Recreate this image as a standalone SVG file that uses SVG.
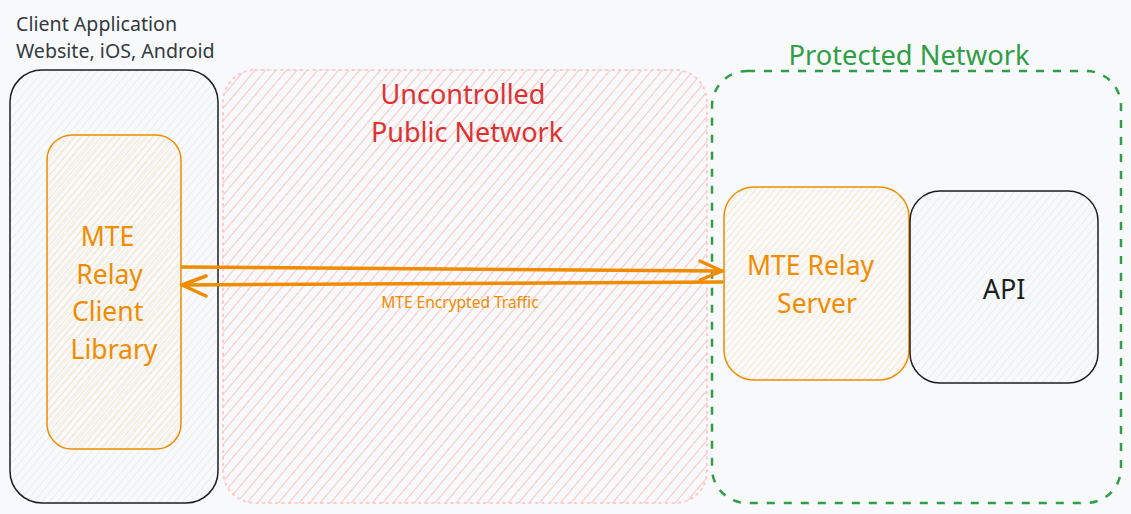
<svg xmlns="http://www.w3.org/2000/svg" width="1131" height="514" viewBox="0 0 1131 514">
<defs>
<pattern id="hGray" width="6" height="6" patternUnits="userSpaceOnUse" patternTransform="rotate(40)">
<line x1="0" y1="0" x2="0" y2="6" stroke="#dee2e6" stroke-width="1"/>
</pattern>
<pattern id="hOrange" width="5" height="5" patternUnits="userSpaceOnUse" patternTransform="rotate(40)">
<line x1="0" y1="0" x2="0" y2="5" stroke="#ffd8a8" stroke-width="1.2"/>
</pattern>
<pattern id="hPink" width="8" height="8" patternUnits="userSpaceOnUse" patternTransform="rotate(40)">
<line x1="0" y1="0" x2="0" y2="8" stroke="#ffc2c2" stroke-width="2"/>
</pattern>
<style>
.t{font-family:"Noto Sans","Open Sans",sans-serif}
.dark{fill:#1e1e1e}
.org{fill:#f08c00}
.conn{stroke:#f08c00;stroke-width:3.5;fill:none;stroke-linecap:round;stroke-linejoin:round}
</style>
</defs>
<rect x="0" y="0" width="1131" height="514" fill="#f8f9fa"/>

<g id="public-network">
<rect x="223" y="70" width="484" height="433" rx="32" fill="url(#hPink)" stroke="#ffc9c9" stroke-width="2" stroke-dasharray="1.5 5" stroke-linecap="round"/>
<text class="t" x="463" y="103.5" font-size="27" text-anchor="middle" fill="#e03131">Uncontrolled</text>
<text class="t" x="467" y="141.5" font-size="27" text-anchor="middle" fill="#e03131">Public Network</text>
</g>

<g id="client-app">
<text class="t" x="16" y="30.5" font-size="19.6" fill="#343a40">Client Application</text>
<text class="t" x="16" y="57.5" font-size="19.6" fill="#343a40">Website, iOS, Android</text>
<rect x="10" y="70" width="208" height="433" rx="32" fill="url(#hGray)" stroke="#1e1e1e" stroke-width="1.5"/>
</g>

<g id="client-library">
<rect x="47" y="135" width="134" height="314" rx="25" fill="url(#hOrange)" stroke="#f08c00" stroke-width="1.5"/>
<text class="t org" font-size="26.5" text-anchor="middle">
<tspan x="111" y="246">MTE</tspan>
<tspan x="113" y="283.5">Relay</tspan>
<tspan x="111" y="321">Client</tspan>
<tspan x="114" y="358.5">Library</tspan>
</text>
</g>

<g id="protected-network">
<rect x="712" y="71" width="409" height="432" rx="35" fill="none" stroke="#2f9e44" stroke-width="2.5" stroke-dasharray="8 9"/>
<text class="t" x="909" y="65" font-size="27.3" text-anchor="middle" fill="#2f9e44">Protected Network</text>
</g>

<g id="relay-server">
<rect x="724" y="187" width="185" height="193" rx="30" fill="url(#hOrange)" stroke="#f08c00" stroke-width="1.5"/>
<text class="t org" font-size="26.5" text-anchor="middle">
<tspan x="814" y="275">MTE Relay</tspan>
<tspan x="817" y="313">Server</tspan>
</text>
</g>

<g id="api">
<rect x="910" y="191" width="188" height="192" rx="30" fill="url(#hGray)" stroke="#1e1e1e" stroke-width="1.5"/>
<text class="t dark" x="1004" y="299" font-size="27" text-anchor="middle">API</text>
</g>

<g id="connectors">
<path class="conn" d="M182 267 L722 271"/>
<path class="conn" d="M700 261 L722 271 L700 280"/>
<path class="conn" d="M722 282 L182 285"/>
<path class="conn" d="M206 276 L182 285 L206 296"/>
<text class="t org" x="460" y="308" font-size="15.5" text-anchor="middle">MTE Encrypted Traffic</text>
</g>
</svg>
